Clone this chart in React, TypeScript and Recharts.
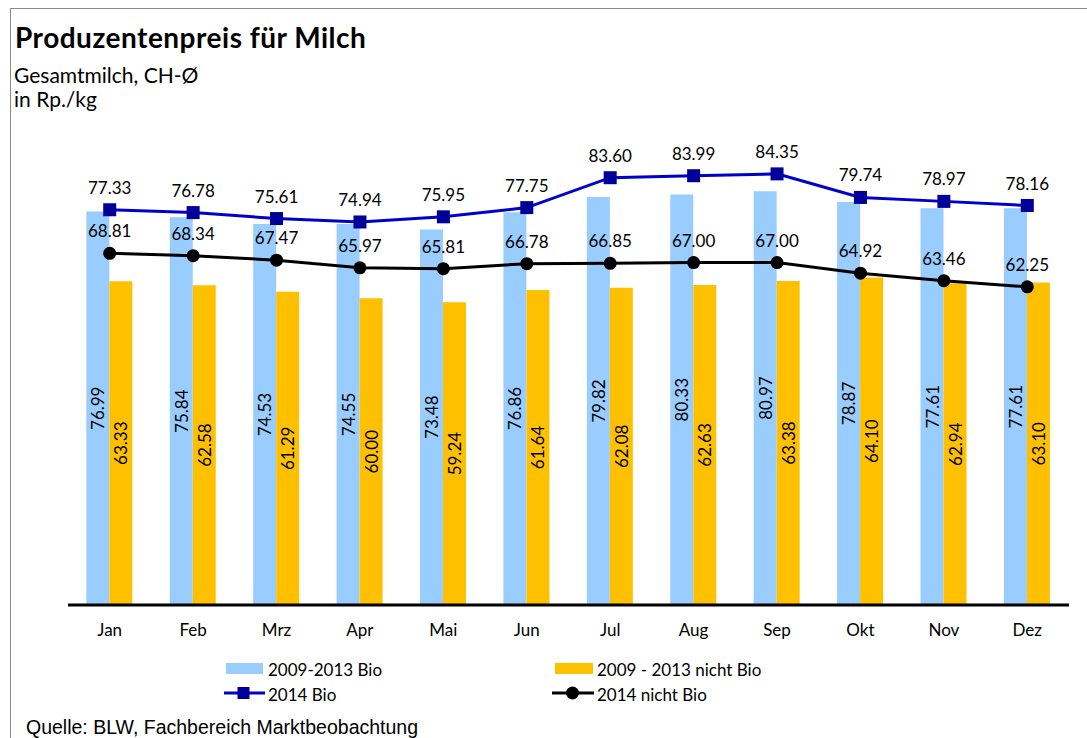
import React from 'react';
import { ComposedChart, Bar, Line, XAxis, YAxis, LabelList } from 'recharts';

const months = ['Jan', 'Feb', 'Mrz', 'Apr', 'Mai', 'Jun', 'Jul', 'Aug', 'Sep', 'Okt', 'Nov', 'Dez'];
const bio0913 = [76.99, 75.84, 74.53, 74.55, 73.48, 76.86, 79.82, 80.33, 80.97, 78.87, 77.61, 77.61];
const nichtBio0913 = [63.33, 62.58, 61.29, 60.0, 59.24, 61.64, 62.08, 62.63, 63.38, 64.1, 62.94, 63.1];
const bio2014 = [77.33, 76.78, 75.61, 74.94, 75.95, 77.75, 83.6, 83.99, 84.35, 79.74, 78.97, 78.16];
const nichtBio2014 = [68.81, 68.34, 67.47, 65.97, 65.81, 66.78, 66.85, 67.0, 67.0, 64.92, 63.46, 62.25];

const data = months.map((m, i) => ({
  month: m,
  bio0913: bio0913[i],
  nichtBio0913: nichtBio0913[i],
  bio2014: bio2014[i],
  nichtBio2014: nichtBio2014[i],
}));

const FONT = 'Lato, "Open Sans", sans-serif';
const BLUE_BAR = '#99CCFF';
const ORANGE_BAR = '#FFC000';
const BLUE_LINE = '#0000CC';
const BLUE_MARK = '#000099';

const VLabel = (props: any) => {
  const { x, y, width, height, value } = props;
  const cx = Number(x) + Number(width) / 2;
  const cy = Number(y) + Number(height) / 2;
  return (
    <text
      x={cx}
      y={cy}
      transform={`rotate(-90 ${cx} ${cy})`}
      textAnchor="middle"
      dominantBaseline="central"
      fontSize={17}
      fontFamily={FONT}
      fill="#000"
    >
      {Number(value).toFixed(2)}
    </text>
  );
};

const SquareDot = (props: any) => {
  const { cx, cy, index } = props;
  return <rect key={`sq-${index}`} x={cx - 6.5} y={cy - 6.5} width={13} height={13} fill={BLUE_MARK} />;
};

const CircleDot = (props: any) => {
  const { cx, cy, index } = props;
  return <circle key={`ci-${index}`} cx={cx} cy={cy} r={6.5} fill="#000" />;
};

export default function App() {
  return (
    <div
      style={{
        position: 'absolute',
        left: 0,
        top: 0,
        width: 1087,
        height: 738,
        overflow: 'hidden',
        background: '#fff',
        fontFamily: FONT,
      }}
    >
      <div
        style={{
          position: 'absolute',
          left: 10,
          top: 8,
          width: 1200,
          height: 900,
          border: '1.5px solid #8a8a8a',
          boxSizing: 'border-box',
        }}
      />

      <div style={{ position: 'absolute', left: 0, top: 0 }}>
        <ComposedChart
          width={1087}
          height={640}
          data={data}
          margin={{ top: 145, right: 18, bottom: 5, left: 68 }}
          barCategoryGap="22%"
          barGap={0}
          style={{ fontFamily: FONT }}
        >
          <XAxis
            dataKey="month"
            axisLine={{ stroke: '#000', strokeWidth: 3 }}
            tickLine={false}
            tickSize={0}
            tickMargin={19}
            height={30}
            tick={{ fill: '#000', fontSize: 17, fontFamily: FONT }}
            interval={0}
          />
          <YAxis hide domain={[0, 90]} />
          <Bar dataKey="bio0913" fill={BLUE_BAR} isAnimationActive={false}>
            <LabelList dataKey="bio0913" content={VLabel} />
          </Bar>
          <Bar dataKey="nichtBio0913" fill={ORANGE_BAR} isAnimationActive={false}>
            <LabelList dataKey="nichtBio0913" content={VLabel} />
          </Bar>
          <Line
            dataKey="bio2014"
            stroke={BLUE_LINE}
            strokeWidth={3}
            dot={SquareDot}
            activeDot={false}
            isAnimationActive={false}
          >
            <LabelList
              dataKey="bio2014"
              position="top"
              offset={16}
              fill="#000"
              fontSize={17}
              fontFamily={FONT}
              formatter={(v: any) => Number(v).toFixed(2)}
            />
          </Line>
          <Line
            dataKey="nichtBio2014"
            stroke="#000"
            strokeWidth={3}
            dot={CircleDot}
            activeDot={false}
            isAnimationActive={false}
          >
            <LabelList
              dataKey="nichtBio2014"
              position="top"
              offset={16}
              fill="#000"
              fontSize={17}
              fontFamily={FONT}
              formatter={(v: any) => Number(v).toFixed(2)}
            />
          </Line>
        </ComposedChart>
      </div>

      {/* Titles, legend, source */}
      <svg style={{ position: 'absolute', left: 0, top: 0 }} width={1087} height={738}>
        <text x={15} y={48} fontFamily={FONT} fontWeight={700} fontSize={28} letterSpacing={0.5} fill="#000">
          Produzentenpreis für Milch
        </text>
        <text x={14} y={83} fontFamily={FONT} fontSize={21} fill="#000">
          Gesamtmilch, CH-Ø
        </text>
        <text x={14} y={107} fontFamily={FONT} fontSize={21} fill="#000">
          in Rp./kg
        </text>

        <rect x={226} y={663} width={37} height={11} fill={BLUE_BAR} />
        <text x={268} y={669} dominantBaseline="central" fontFamily={FONT} fontSize={17} fill="#000">
          2009-2013 Bio
        </text>
        <rect x={555} y={663} width={38} height={11} fill={ORANGE_BAR} />
        <text x={597} y={669} dominantBaseline="central" fontFamily={FONT} fontSize={17} fill="#000">
          2009 - 2013 nicht Bio
        </text>

        <line x1={224} y1={693} x2={265} y2={693} stroke={BLUE_LINE} strokeWidth={3} />
        <rect x={237.5} y={687} width={12} height={12} fill={BLUE_MARK} />
        <text x={268} y={694} dominantBaseline="central" fontFamily={FONT} fontSize={17} fill="#000">
          2014 Bio
        </text>
        <line x1={552} y1={693} x2={594} y2={693} stroke="#000" strokeWidth={3} />
        <circle cx={572.5} cy={693} r={6.5} fill="#000" />
        <text x={597} y={694} dominantBaseline="central" fontFamily={FONT} fontSize={17} fill="#000">
          2014 nicht Bio
        </text>

        <text x={26} y={734} fontFamily={'"Liberation Sans", Arial, sans-serif'} fontSize={19.5} fill="#000">
          Quelle: BLW, Fachbereich Marktbeobachtung
        </text>
      </svg>
    </div>
  );
}
